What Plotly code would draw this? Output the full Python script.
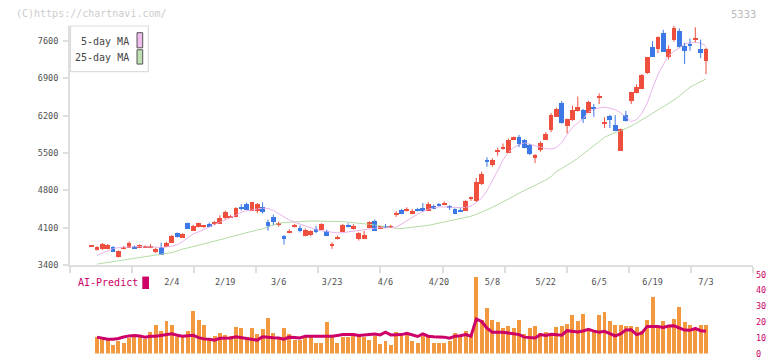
import numpy as np
import plotly.graph_objects as go

W, H = 772, 361
MONO = "DejaVu Sans Mono"

# ---------------- data ----------------
idx = list(range(1, 117))

opens = [3745, 3690, 3700, 3713, 3750, 3547, 3710, 3732, 3732, 3720,
         3722, 3742, 3640, 3750, 3750, 3824, 4008, 3916, 4192, 4050,
         4112, 4132, 4167, 4182, 4180, 4284, 4302, 4315, 4490, 4550,
         4425, 4425, 4500, 4222, 4302, 4163, 3958, 4022, 4122, 4100,
         3947, 3976, 4087, 4069, 4039, 3765, 3885, 4026, 4152, 4081,
         3885, 3897, 4100, 4235, 4090, 4127, 4108, 4355, 4431, 4428,
         4363, 4442, 4468, 4420, 4518, 4538, 4538, 4518, 4450, 4437,
         4420, 4657, 4603, 4929, 5368, 5284, 5532, 5592, 5513, 5746,
         5800, 5746, 5653, 5420, 5560, 5746, 5942, 6187, 6445, 6015,
         6126, 6300, 6321, 6260, 6380, 6543, 6067, 6207, 6034, 5542,
         6218, 6494, 6637, 6710, 7016, 7508, 7458, 7766, 7310, 7630,
         7803, 7520, 7555, 7645, 7458, 7230]
highs = [3762, 3750, 3810, 3790, 3750, 3670, 3750, 3840, 3760, 3785,
         3765, 3790, 3720, 3816, 3830, 3960, 4008, 3995, 4192, 4150,
         4192, 4150, 4195, 4220, 4330, 4420, 4340, 4480, 4540, 4570,
         4580, 4560, 4570, 4250, 4340, 4210, 3960, 4070, 4170, 4140,
         4080, 4050, 4130, 4180, 4060, 3820, 3950, 4170, 4180, 4160,
         4010, 4035, 4215, 4250, 4131, 4165, 4150, 4410, 4450, 4480,
         4450, 4470, 4560, 4580, 4530, 4560, 4590, 4520, 4460, 4470,
         4615, 4680, 5030, 5150, 5420, 5400, 5600, 5680, 5770, 5810,
         5840, 5760, 5670, 5480, 5720, 5890, 6250, 6350, 6475, 6145,
         6390, 6560, 6330, 6480, 6420, 6620, 6170, 6215, 6210, 5955,
         6290, 6650, 6790, 6980, 7305, 7600, 7692, 7815, 7520, 7890,
         7840, 7570, 7650, 7860, 7630, 7480]
lows = [3742, 3670, 3680, 3700, 3658, 3535, 3690, 3732, 3700, 3715,
        3715, 3710, 3620, 3597, 3745, 3810, 3910, 3905, 4070, 4040,
        4100, 4090, 4110, 4150, 4180, 4250, 4290, 4290, 4420, 4430,
        4425, 4370, 4360, 4040, 4150, 4115, 3780, 3990, 4100, 4010,
        3935, 3935, 3995, 4060, 3935, 3700, 3875, 4020, 4100, 4060,
        3855, 3885, 4090, 4050, 4085, 4100, 4090, 4300, 4350, 4400,
        4350, 4405, 4400, 4410, 4445, 4500, 4520, 4430, 4350, 4390,
        4415, 4600, 4580, 4900, 5240, 5240, 5450, 5560, 5500, 5740,
        5610, 5590, 5460, 5310, 5520, 5740, 5890, 6180, 6050, 5870,
        6100, 6280, 6065, 6250, 6180, 6420, 5970, 5970, 5910, 5542,
        6090, 6420, 6620, 6700, 6980, 7305, 7375, 7402, 7255, 7590,
        7480, 7170, 7420, 7580, 7280, 6980]
closes = [3760, 3750, 3792, 3774, 3658, 3670, 3728, 3824, 3712, 3780,
          3760, 3758, 3700, 3600, 3824, 3947, 3934, 3990, 4087, 4142,
          4192, 4150, 4135, 4200, 4284, 4395, 4322, 4468, 4470, 4437,
          4580, 4550, 4395, 4142, 4210, 4182, 3897, 4040, 4140, 4039,
          4057, 4050, 4026, 4173, 3958, 3785, 3934, 4160, 4133, 4142,
          4008, 3971, 4210, 4050, 4131, 4108, 4127, 4375, 4363, 4447,
          4420, 4423, 4420, 4560, 4450, 4520, 4557, 4468, 4363, 4418,
          4609, 4675, 4960, 5113, 5348, 5370, 5552, 5612, 5746, 5800,
          5684, 5604, 5494, 5475, 5696, 5862, 6218, 6340, 6065, 6140,
          6310, 6365, 6148, 6475, 6340, 6567, 6087, 6120, 5924, 5955,
          6108, 6650, 6753, 6973, 7305, 7310, 7692, 7402, 7465, 7864,
          7495, 7428, 7520, 7667, 7385, 7465]

ma5 = [None, 3578, 3621, 3658, 3704, 3722, 3732, 3732, 3741, 3741,
       3741, 3741, 3732, 3722, 3732, 3750, 3778, 3833, 3907, 3980,
       4017, 4063, 4118, 4165, 4201, 4238, 4284, 4330, 4385, 4413,
       4437, 4450, 4463, 4459, 4422, 4358, 4293, 4238, 4201, 4165,
       4128, 4091, 4058, 4039, 4026, 4012, 3999, 4004, 4017, 4035,
       4048, 4063, 4082, 4094, 4100, 4091, 4094, 4109, 4165, 4229,
       4284, 4349, 4404, 4444, 4468, 4487, 4487, 4481, 4472, 4472,
       4481, 4505, 4569, 4653, 4791, 4966, 5168, 5371, 5509, 5605,
       5656, 5693, 5666, 5638, 5605, 5583, 5573, 5601, 5693, 5850,
       5979, 6062, 6145, 6265, 6320, 6347, 6360, 6342, 6314, 6255,
       6181, 6089, 6126, 6246, 6439, 6716, 6973, 7158, 7324, 7416,
       7471, 7553, 7563, 7581, 7563, 7508]
ma25 = [None, 3413, 3428, 3446, 3464, 3477, 3492, 3505, 3516, 3529,
        3544, 3560, 3575, 3593, 3612, 3630, 3658, 3695, 3717, 3741,
        3768, 3796, 3814, 3842, 3870, 3897, 3925, 3953, 3975, 3999,
        4026, 4054, 4076, 4115, 4150, 4178, 4192, 4201, 4205, 4210,
        4220, 4223, 4223, 4223, 4223, 4223, 4220, 4210, 4201, 4186,
        4177, 4170, 4161, 4146, 4131, 4109, 4094, 4085, 4082, 4091,
        4103, 4113, 4128, 4140, 4161, 4183, 4201, 4220, 4238, 4257,
        4280, 4312, 4349, 4385, 4432, 4478, 4527, 4579, 4634, 4689,
        4745, 4800, 4846, 4892, 4938, 4993, 5058, 5150, 5210, 5270,
        5330, 5400, 5481, 5564, 5647, 5730, 5795, 5841, 5878, 5914,
        5960, 6006, 6062, 6117, 6181, 6246, 6305, 6366, 6430, 6495,
        6568, 6660, 6734, 6789, 6835, 6891]

volume = [None, 11.0, 10.4, 8.9, 5.4, 7.9, 7.2, 9.9, 10.6, 11.6,
          9.3, 14.1, 18.4, 14.7, 20.9, 18.4, 11.0, 10.4, 14.7, 27.1,
          21.7, 18.4, 8.5, 11.6, 13.0, 12.2, 11.6, 17.2, 16.1, 11.0,
          16.6, 12.8, 15.5, 22.8, 13.5, 11.0, 16.1, 12.8, 8.5, 9.1,
          11.0, 11.6, 7.2, 7.2, 20.3, 11.6, 7.2, 11.0, 10.4, 12.8,
          11.6, 11.0, 9.1, 11.6, 6.0, 7.9, 5.4, 14.1, 11.6, 12.8,
          7.9, 6.6, 11.6, 10.4, 7.2, 7.2, 7.2, 7.9, 13.5, 10.4,
          14.7, 12.2, 48.9, 21.5, 29.0, 21.5, 20.3, 16.6, 17.8, 16.6,
          21.7, 12.8, 16.6, 17.8, 13.5, 14.1, 13.5, 17.2, 17.8, 19.0,
          24.6, 20.9, 25.3, 16.6, 14.7, 24.6, 26.5, 20.9, 18.4, 18.4,
          17.8, 17.8, 17.2, 14.7, 21.5, 35.8, 17.8, 20.9, 17.2, 22.2,
          29.6, 20.3, 18.4, 15.9, 18.4, 18.4]
ai_predict = [None, 10.4, 9.9, 9.1, 9.1, 9.5, 10.5, 11.2, 11.4, 11.2,
              10.4, 11.0, 11.0, 11.5, 12.2, 12.5, 11.6, 11.0, 11.3, 11.6,
              10.1, 9.3, 9.0, 8.5, 9.7, 9.8, 9.9, 10.6, 10.1, 9.7,
              9.2, 8.5, 10.6, 10.1, 10.0, 9.9, 9.1, 10.4, 10.2, 9.9,
              11.0, 11.0, 11.0, 10.8, 10.6, 11.0, 11.5, 12.0, 12.0, 12.0,
              11.4, 11.6, 12.0, 12.4, 11.8, 13.5, 11.8, 11.9, 12.0, 12.8,
              11.6, 10.8, 12.4, 11.0, 10.6, 10.4, 10.4, 9.7, 11.0, 11.3,
              12.0, 11.0, 21.9, 20.3, 16.1, 13.5, 13.6, 13.5, 13.0, 12.6,
              12.0, 10.4, 10.2, 9.9, 12.0, 11.4, 12.2, 12.0, 11.6, 14.5,
              14.1, 13.7, 14.3, 15.3, 14.2, 13.5, 14.1, 12.4, 11.2, 12.4,
              15.0, 15.1, 12.0, 13.0, 17.2, 17.2, 17.2, 16.6, 17.4, 17.6,
              16.5, 14.9, 14.7, 15.9, 14.5, 14.1]

date_positions = [16, 26, 36, 46, 56, 66, 76, 86, 96, 106, 116]
date_labels = ["2/4", "2/19", "3/6", "3/23", "4/6", "4/20", "5/8",
               "5/22", "6/5", "6/19", "7/3"]
price_ticks = [3400, 4100, 4800, 5500, 6200, 6900, 7600]
vol_ticks = [0, 10, 20, 30, 40, 50]

# ---------------- styles ----------------
UP = "#ef4f3e"
DOWN = "#3d79e6"
MA5_C = "#e9b4ea"
MA25_C = "#b3dba6"
VOL_C = "#f2993f"
AI_C = "#cc0066"
AX_C = "#dedede"
TXT_C = "#505050"


def fx(px):
    return px / W


def fy(py):
    return (H - py) / H


xr = [-3.06, 124.8]
xdom = [fx(70), fx(753)]
ydom_main = [fy(268), fy(24)]
ydom_vol = [fy(358.5), fy(275)]

fig = go.Figure()

# moving averages
fig.add_trace(go.Scatter(x=idx, y=ma25, mode="lines", line=dict(color=MA25_C, width=1),
                         xaxis="x", yaxis="y", hoverinfo="skip"))
fig.add_trace(go.Scatter(x=idx, y=ma5, mode="lines", line=dict(color=MA5_C, width=1),
                         xaxis="x", yaxis="y", hoverinfo="skip"))

# candle wicks
for up in (True, False):
    wx, wy = [], []
    for i, o, h, l, c in zip(idx, opens, highs, lows, closes):
        if (c >= o) == up:
            wx += [i, i, None]
            wy += [l, h, None]
    fig.add_trace(go.Scatter(x=wx, y=wy, mode="lines",
                             line=dict(color=UP if up else DOWN, width=1),
                             xaxis="x", yaxis="y", hoverinfo="skip"))

# candle bodies
base = [min(o, c) for o, c in zip(opens, closes)]
height = [max(abs(c - o), 18) for o, c in zip(opens, closes)]
colors = [UP if c >= o else DOWN for o, c in zip(opens, closes)]
fig.add_trace(go.Bar(x=idx, y=height, base=base, width=0.9,
                     marker=dict(color=colors, line=dict(width=0)),
                     xaxis="x", yaxis="y", hoverinfo="skip"))

# volume & AI predict
fig.add_trace(go.Bar(x=idx, y=volume, width=0.74, marker=dict(color=VOL_C, line=dict(width=0)),
                     xaxis="x2", yaxis="y2", hoverinfo="skip"))
fig.add_trace(go.Scatter(x=idx, y=ai_predict, mode="lines", line=dict(color=AI_C, width=3),
                         xaxis="x2", yaxis="y2", hoverinfo="skip"))

axis_font = dict(family=MONO, size=8.5, color=TXT_C)
n_parts = 11

fig.update_layout(
    width=W, height=H, margin=dict(l=0, r=0, t=0, b=0),
    paper_bgcolor="white", plot_bgcolor="white", showlegend=False,
    bargap=0,
    xaxis=dict(domain=xdom, range=xr, anchor="y", showline=True, linecolor=AX_C, linewidth=2,
               tickmode="array", tickvals=date_positions, ticktext=date_labels, ticks="",
               ticklabelstandoff=8, tickfont=axis_font, showgrid=False, zeroline=False,
               minor=dict(tickmode="array",
                          tickvals=list(np.linspace(xr[0], xr[1], n_parts + 1)),
                          ticks="outside", ticklen=6, tickcolor=AX_C, tickwidth=1.5,
                          showgrid=False)),
    yaxis=dict(domain=ydom_main, range=[3400, 7894], anchor="x", showline=True, linecolor=AX_C,
               linewidth=2, tickmode="array", tickvals=price_ticks, ticks="outside", ticklen=5,
               tickcolor=AX_C, tickwidth=1.5, ticklabelstandoff=3, tickfont=axis_font,
               showgrid=False, zeroline=False),
    xaxis2=dict(domain=xdom, range=xr, anchor="y2", visible=False),
    yaxis2=dict(domain=ydom_vol, range=[0, 51.9], anchor="x2", side="right", showline=False,
                tickmode="array", tickvals=vol_ticks, ticks="", ticklabelstandoff=2,
                tickfont=dict(family=MONO, size=8.5, color=AI_C), showgrid=False, zeroline=False),
)

shapes = []
annotations = []

# legend box
shapes.append(dict(type="rect", xref="paper", yref="paper", x0=fx(70.5), x1=fx(148.3),
                   y0=fy(71), y1=fy(24.5), line=dict(color="#dddddd", width=1.2),
                   fillcolor="white", layer="above"))
shapes.append(dict(type="rect", xref="paper", yref="paper", x0=fx(137), x1=fx(142.7),
                   y0=fy(46.7), y1=fy(31.3), line=dict(color="#555555", width=1),
                   fillcolor="#efbdef", layer="above"))
shapes.append(dict(type="rect", xref="paper", yref="paper", x0=fx(137), x1=fx(142.7),
                   y0=fy(63.3), y1=fy(48.7), line=dict(color="#555555", width=1),
                   fillcolor="#bfe0b3", layer="above"))
annotations.append(dict(xref="paper", yref="paper", x=fx(131), y=fy(40), text="5-day MA",
                        showarrow=False, xanchor="right", yanchor="middle",
                        font=dict(family=MONO, size=10, color="#444444")))
annotations.append(dict(xref="paper", yref="paper", x=fx(131), y=fy(57), text="25-day MA",
                        showarrow=False, xanchor="right", yanchor="middle",
                        font=dict(family=MONO, size=10, color="#444444")))

# AI-Predict legend
shapes.append(dict(type="rect", xref="paper", yref="paper", x0=fx(142.3), x1=fx(149),
                   y0=fy(292.7), y1=fy(280), line=dict(width=0), fillcolor=AI_C, layer="above"))
annotations.append(dict(xref="paper", yref="paper", x=fx(75.5), y=fy(286), text="AI-Predict",
                        showarrow=False, xanchor="left", yanchor="middle",
                        font=dict(family=MONO, size=10, color=AI_C)))

# watermark & code
annotations.append(dict(xref="paper", yref="paper", x=fx(13.5), y=fy(12), text="(C)https://chartnavi.com/",
                        showarrow=False, xanchor="left", yanchor="middle",
                        font=dict(family=MONO, size=10, color="#cccccc")))
annotations.append(dict(xref="paper", yref="paper", x=fx(757.5), y=fy(12), text="5333",
                        showarrow=False, xanchor="right", yanchor="middle",
                        font=dict(family=MONO, size=10.5, color="#bbbbbb")))

fig.update_layout(shapes=shapes, annotations=annotations)

fig.write_html("out.html")
